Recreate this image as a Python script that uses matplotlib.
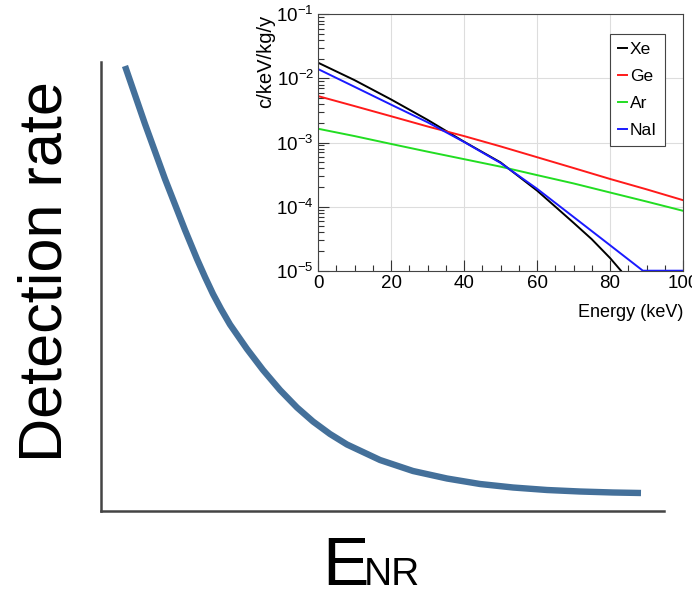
import numpy as np
import matplotlib.pyplot as plt
from matplotlib.ticker import MultipleLocator, LogLocator, NullFormatter

plt.rcParams['font.family'] = ['Liberation Sans', 'DejaVu Sans']

# main sketch curve (arbitrary units)
e_nr = [24, 44, 64, 84, 96, 104, 112, 120, 129, 146, 162, 179, 196, 212,
        229, 246, 279, 312, 346, 379, 412, 446, 479, 512, 540]
rate = [445, 387, 332, 281, 252, 234, 217, 202, 186.5, 162, 141, 121, 103.5,
        89.5, 77, 66.5, 51, 40, 32.5, 27, 23.5, 21, 19.5, 18.5, 18]

# inset spectra (keV, c/keV/kg/y)
energy = [0, 10, 20, 30, 40, 50, 60, 70, 80, 90, 100]
xe_e = [0, 10, 20, 30, 40, 50, 60, 65, 70, 75, 80, 83]
xe = [1.76e-2, 9.4e-3, 4.7e-3, 2.26e-3, 1.03e-3, 4.9e-4, 1.78e-4, 1.0e-4,
      5.6e-5, 3.1e-5, 1.58e-5, 1.0e-5]
ge = [5.3e-3, 3.7e-3, 2.57e-3, 1.78e-3, 1.26e-3, 8.7e-4, 5.9e-4, 4.0e-4,
      2.7e-4, 1.86e-4, 1.26e-4]
ar = [1.64e-3, 1.26e-3, 9.5e-4, 7.2e-4, 5.5e-4, 4.2e-4, 3.1e-4, 2.3e-4,
      1.66e-4, 1.2e-4, 8.6e-5]
nai_e = [0, 10, 20, 30, 40, 50, 60, 70, 80, 89, 100]
nai = [1.4e-2, 7.4e-3, 3.9e-3, 2.07e-3, 1.02e-3, 4.8e-4, 1.9e-4, 6.9e-5,
       2.5e-5, 1.0e-5, 1.0e-5]

fig = plt.figure(figsize=(6.92, 5.91), dpi=100)

ax = fig.add_axes([101/692, 80/591, 563/692, 449/591])
ax.plot(e_nr, rate, color='#44709a', lw=4.6, solid_joinstyle='round',
        solid_capstyle='butt')
ax.set_xlim(0, 563)
ax.set_ylim(0, 449)
for s in ['top', 'right']:
    ax.spines[s].set_visible(False)
for s in ['left', 'bottom']:
    ax.spines[s].set_color('#444444')
    ax.spines[s].set_linewidth(1.8)
ax.set_xticks([])
ax.set_yticks([])

fig.text(46/692, 1 - 272/591, 'Detection rate', rotation=90, fontsize=44,
         ha='center', va='center')
fig.text(322/692, 6/591, 'E', fontsize=50, ha='left', va='baseline')
fig.text(364/692, 6/591, 'NR', fontsize=28, ha='left', va='baseline')

# inset
ins = fig.add_axes([318/692, 1 - 270.7/591, 365/692, 256.4/591])
ins.set_facecolor('white')
ins.plot(xe_e, xe, color='black', lw=1.4, label='Xe')
ins.plot(energy, ge, color='#ff1a1a', lw=1.4, label='Ge')
ins.plot(energy, ar, color='#22dd22', lw=1.4, label='Ar')
ins.plot(nai_e, nai, color='#1a1aff', lw=1.4, label='NaI')
ins.set_yscale('log')
ins.set_xlim(0, 100)
ins.set_ylim(1e-5, 1e-1)
ins.xaxis.set_major_locator(MultipleLocator(20))
ins.xaxis.set_minor_locator(MultipleLocator(5))
ins.yaxis.set_major_locator(LogLocator(base=10, numticks=10))
ins.yaxis.set_minor_locator(LogLocator(base=10, subs=np.arange(2, 10), numticks=10))
ins.yaxis.set_minor_formatter(NullFormatter())
ins.tick_params(which='both', direction='in', top=False, right=False,
                labelsize=13.5, color='#333333')
ins.tick_params(which='major', length=8, width=0.8, pad=3)
ins.tick_params(which='minor', length=4.5, width=0.8)
ins.grid(True, which='major', color='#dddddd', lw=0.8)
for s in ins.spines.values():
    s.set_color('#444444')
    s.set_linewidth(0.8)
ins.set_xlabel('Energy (keV)', fontsize=13, loc='right', labelpad=9)
ins.set_ylabel('c/keV/kg/y', fontsize=14.5, loc='top', labelpad=1)

leg = ins.legend(loc='upper right', bbox_to_anchor=(665/692, 1 - 34/591),
                 bbox_transform=fig.transFigure, borderaxespad=0, fontsize=12.5,
                 handlelength=0.55, handletextpad=0.15, labelspacing=0.68,
                 borderpad=0.45, fancybox=False, framealpha=1, edgecolor='#444444')
leg.get_frame().set_linewidth(0.8)

fig.savefig('out.png', dpi=100)
